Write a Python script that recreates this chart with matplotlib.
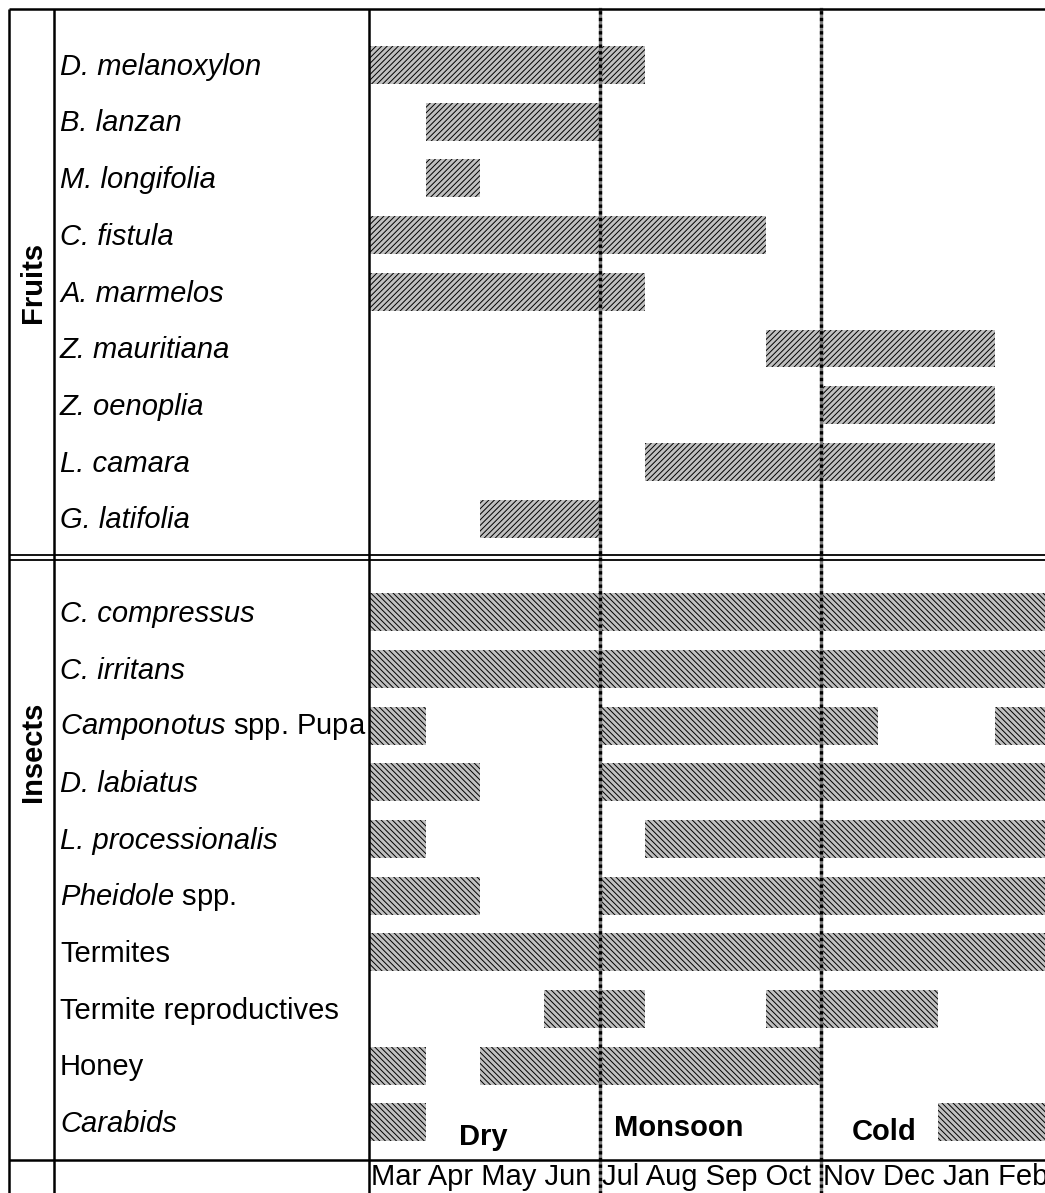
import numpy as np
import matplotlib.pyplot as plt
import matplotlib as mpl
from matplotlib.lines import Line2D

# fonts close to Arial
mpl.rc('font', **{'family': 'sans-serif', 'sans-serif': ['Liberation Sans']})
mpl.rc('font', size=21)
mpl.rc('mathtext', fontset='custom', rm='Liberation Sans',
       it='Liberation Sans:italic', bf='Liberation Sans:bold')
mpl.rc('hatch', linewidth=0.7)

# months counted from start of March (0)
fruit_names = ["D. melanoxylon", "B. lanzan", "M. longifolia", "C. fistula",
               "A. marmelos", "Z. mauritiana", "Z. oenoplia", "L. camara",
               "G. latifolia"]
fruit_spans = [
    [(0, 4.84)],
    [(1.0, 4.05)],
    [(1.0, 1.95)],
    [(0, 6.96)],
    [(0, 4.84)],
    [(6.96, 10.98)],
    [(7.93, 10.98)],
    [(4.84, 10.98)],
    [(1.95, 4.05)],
]

insect_names = ["C. compressus", "C. irritans", r"$\mathit{Camponotus}$ spp. Pupa",
                "D. labiatus", "L. processionalis", r"$\mathit{Pheidole}$ spp.",
                "Termites", "Termite reproductives", "Honey", "Carabids"]
insect_italic = [True, True, False, True, True, False, False, False, False, True]
insect_spans = [
    [(0, 12)],
    [(0, 12)],
    [(0, 1.0), (4.05, 8.93), (10.98, 12)],
    [(0, 1.95), (4.05, 12)],
    [(0, 1.0), (4.84, 12)],
    [(0, 1.95), (4.05, 12)],
    [(0, 12)],
    [(3.07, 4.84), (6.96, 9.98)],
    [(0, 1.0), (1.95, 7.93)],
    [(0, 1.0), (9.98, 12)],
]

month_groups = ["Mar Apr May Jun", "Jul Aug Sep Oct", "Nov Dec Jan Feb"]
seasons = ["Dry", "Monsoon", "Cold"]
season_bounds = [4.05, 7.93]

W, H = 1045, 1193


def fx(px):
    return px / W


def fy(py):
    return 1 - py / H


def hline(fig, y, x0, x1, lw=1.8):
    fig.add_artist(Line2D([fx(x0), fx(x1)], [fy(y), fy(y)], color='black',
                          lw=lw, solid_capstyle='butt'))


def vline(fig, x, y0, y1, lw=1.8):
    fig.add_artist(Line2D([fx(x), fx(x)], [fy(y0), fy(y1)], color='black',
                          lw=lw, solid_capstyle='butt'))


def main():
    fig = plt.figure(figsize=(W / 100, H / 100), dpi=100)
    ax = fig.add_axes([fx(369), fy(1160), fx(1045) - fx(369), fy(9) - fy(1160)])

    fruit_y = np.arange(len(fruit_names))
    insect_y = 9.65 + np.arange(len(insect_names))
    bar_h = 0.67

    for y, spans in zip(fruit_y, fruit_spans):
        for s, e in spans:
            ax.barh(y, e - s, left=s, height=bar_h, color='#c0c0c0',
                    edgecolor='black', linewidth=0, hatch='//////')
    for y, spans in zip(insect_y, insect_spans):
        for s, e in spans:
            ax.barh(y, e - s, left=s, height=bar_h, color='#c0c0c0',
                    edgecolor='black', linewidth=0, hatch='\\' * 6)

    ax.set_xlim(0, (1045 - 369) / 57)
    ax.set_ylim((1160 - 65) / 56.7, (9 - 65) / 56.7)
    ax.axis('off')

    # dotted season boundaries (grey under black dashes)
    for b in season_bounds:
        ax.axvline(b, ymin=-0.03, ymax=1, color='#808080', lw=2.4, clip_on=False)
        ax.axvline(b, ymin=-0.03, ymax=1, color='black', lw=2.4,
                   dashes=(1, 1), clip_on=False)

    # table grid
    hline(fig, 9, 9, W)
    vline(fig, 9, 9, H)
    vline(fig, 54, 9, H)
    vline(fig, 369, 9, H)
    hline(fig, 555, 9, W, lw=1.3)
    hline(fig, 559.5, 9, W, lw=1.3)
    hline(fig, 1160, 9, W)

    # row labels
    trans = mpl.transforms.blended_transform_factory(fig.transFigure, ax.transData)
    for y, name in zip(fruit_y, fruit_names):
        ax.text(fx(60), y + 0.03, name, transform=trans, style='italic', va='center', ha='left')
    for y, name, it in zip(insect_y, insect_names, insect_italic):
        ax.text(fx(60), y + 0.03, name, transform=trans, style='italic' if it else 'normal',
                va='center', ha='left')

    # group labels
    fig.text(fx(33), fy(282), "Fruits", rotation=90, weight='bold', ha='center', va='center')
    fig.text(fx(33), fy(752), "Insects", rotation=90, weight='bold', ha='center', va='center')

    # seasons and months
    for name, x, y in zip(seasons, [459, 614, 852], [1137, 1128, 1132]):
        fig.text(fx(x), fy(y), name, weight='bold', ha='left', va='center')
    for label, x in zip(month_groups, [371, 602, 823]):
        fig.text(fx(x), fy(1177), label, ha='left', va='center')

    fig.savefig('out.png', dpi=100)


main()
